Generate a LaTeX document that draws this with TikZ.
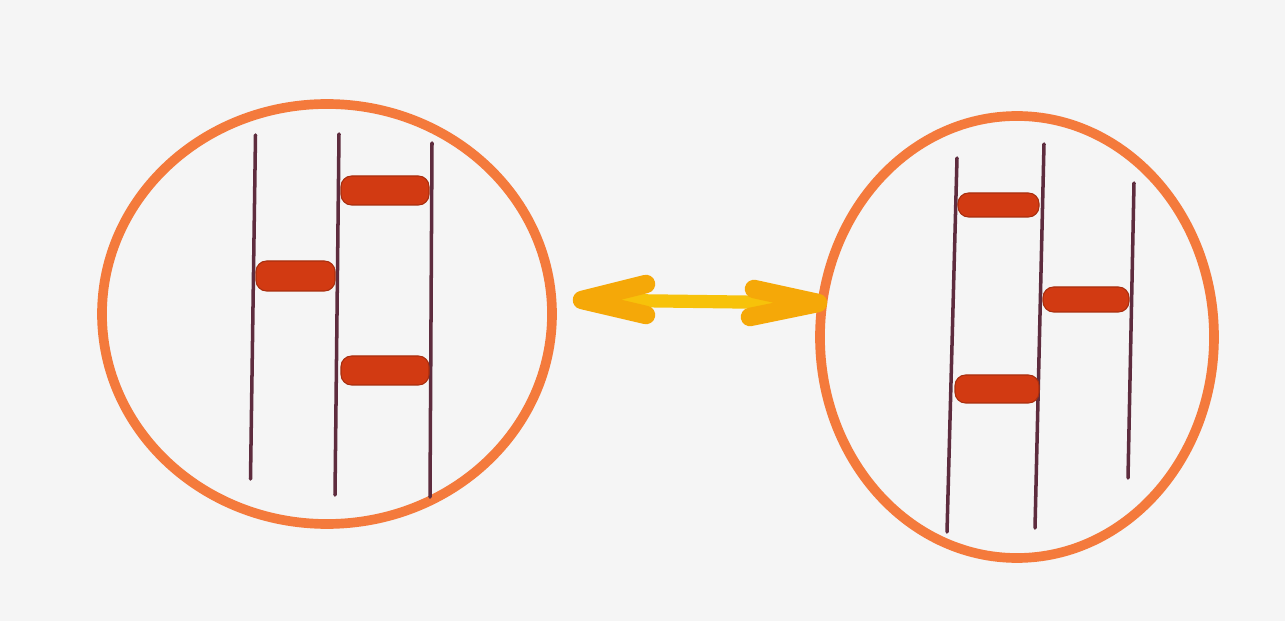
\documentclass[tikz,border=0pt]{standalone}
\begin{document}
\begin{tikzpicture}[x=0.02cm,y=-0.02cm,
  ring/.style={draw=ringc, line width=5.5pt},
  strand/.style={draw=strandc, line width=2pt, line cap=round},
  bond/.style={fill=bondc, draw=bondc!80!black, line width=0.6pt, rounded corners=6pt},
  arrowshaft/.style={draw=shaftc, line width=7.5pt, line cap=round},
  arrowhead/.style={draw=headc, line width=10.5pt, line cap=round, line join=round}]
\definecolor{ringc}{HTML}{F47A3C}
\definecolor{strandc}{HTML}{5E2C3E}
\definecolor{bondc}{HTML}{D23A12}
\definecolor{shaftc}{HTML}{F7C20A}
\definecolor{headc}{HTML}{F5A808}
\definecolor{bgc}{HTML}{F5F5F5}
\fill[bgc] (0,0) rectangle (1285,621);
\useasboundingbox (0,0) rectangle (1285,621);
% left cell
\draw[ring] (327,314) ellipse [x radius=225, y radius=210];
\draw[strand] (255.5,135) -- (250.5,479);
\draw[strand] (339,134) -- (335,495);
\draw[strand] (432,143) -- (430,497);
\draw[bond] (341,176) rectangle (429,205);
\draw[bond] (256,261) rectangle (335,291);
\draw[bond] (341,356) rectangle (429,385);
% right cell
\draw[ring] (1017,337) ellipse [x radius=197, y radius=221];
\draw[strand] (957,158) -- (947,532);
\draw[strand] (1044,144) -- (1035,528);
\draw[strand] (1134,183) -- (1128,478);
\draw[bond] (958,193) rectangle (1039,217);
\draw[bond] (1043,287) rectangle (1129,312);
\draw[bond] (955,375) rectangle (1039,403);
% double arrow
\coordinate (la) at (582,300);
\coordinate (ra) at (818,303);
\draw[arrowshaft] (la) -- (ra);
\draw[arrowhead] (646,284) -- (la) -- (646,315);
\draw[arrowhead] (754,289) -- (ra) -- (750,317);
\end{tikzpicture}
\end{document}
